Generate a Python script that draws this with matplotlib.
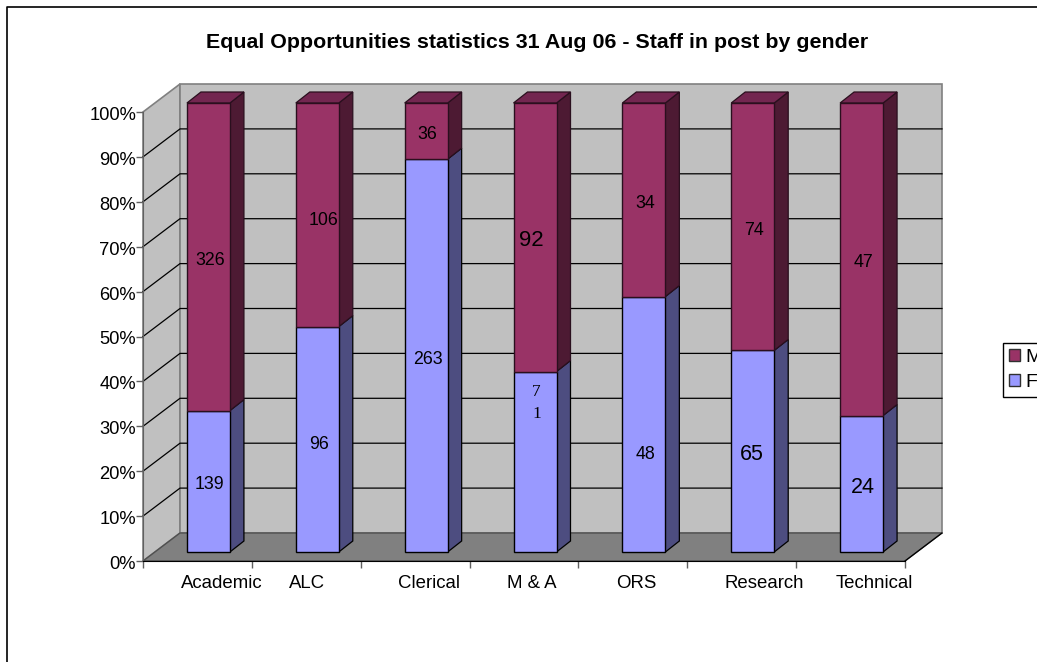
import matplotlib
matplotlib.use("Agg")
import matplotlib.pyplot as plt
from matplotlib.patches import Polygon, Patch
from matplotlib.lines import Line2D
from matplotlib.transforms import ScaledTranslation

categories = ["Academic", "ALC", "Clerical", "M & A", "ORS", "Research", "Technical"]
female_share = [31.5, 50.2, 87.5, 40.2, 56.9, 44.9, 30.4]
female_counts = ["139", "96", "263", "7\n1", "48", "65", "24"]
male_counts = ["326", "106", "36", "92", "34", "74", "47"]
percent_ticks = list(range(0, 101, 10))
title = "Equal Opportunities statistics 31 Aug 06 - Staff in post by gender"

W, H = 1037, 662
L, R, T, B = 143, 905, 112, 561
fig = plt.figure(figsize=(W / 100, H / 100), dpi=100, facecolor="white")
ax = fig.add_axes([L / W, 1 - B / H, (R - L) / W, (B - T) / H])
ax.set_xlim(0, 7)
ax.set_ylim(0, 100)
ax.patch.set_visible(False)
PX = 7 / (R - L)
PY = 100 / (B - T)

# 3-D depth offsets, expressed in data units
wall_dx, wall_dy = 37 * PX, 28 * PY
shift_dx, shift_dy = 11 * PX, 9 * PY
bar_dx, bar_dy = 14 * PX, 11 * PY
bar_w = 43 * PX

WALL, FLOOR, EDGE = "#c0c0c0", "#808080", "#808080"
MALE, MALE_TOP, MALE_SIDE = "#993366", "#732650", "#4d1a33"
FEM, FEM_TOP, FEM_SIDE = "#9999ff", "#7373bf", "#4d4d80"


def poly(pts, fc, ec, lw=1.0, z=1):
    ax.add_patch(Polygon(pts, closed=True, facecolor=fc, edgecolor=ec, linewidth=lw,
                         zorder=z, clip_on=False, joinstyle="miter"))


poly([(0, 0), (wall_dx, wall_dy), (wall_dx, 100 + wall_dy), (0, 100)], WALL, EDGE, 1.2)
poly([(wall_dx, wall_dy), (7 + wall_dx, wall_dy), (7 + wall_dx, 100 + wall_dy),
      (wall_dx, 100 + wall_dy)], WALL, EDGE, 1.2)
for p in percent_ticks[1:-1]:
    ax.plot([0, wall_dx, 7 + wall_dx], [p, p + wall_dy, p + wall_dy], color="black",
            lw=0.9, zorder=1.5, clip_on=False)
poly([(0, 0), (7, 0), (7 + wall_dx, wall_dy), (wall_dx, wall_dy)], FLOOR, "#505050", 1.0, 2)
ax.plot([7, 7 + wall_dx], [0, wall_dy], color="black", lw=0.9, zorder=2.1, clip_on=False)

# hand adjustments of individual labels, in pixels (right, up), and their sizes
SANS, SERIF = "Liberation Sans", "Liberation Serif"
base_dy = -3.5
f_nudge = {"ALC": (0, -2), "M & A": (0, 62.5), "ORS": (0, -26.5), "Research": (-2, 0)}
m_nudge = {"ALC": (5, -2), "M & A": (-5, 0)}
f_size = {"Research": 15.5, "Technical": 15.5, "M & A": 12.5}
m_size = {"M & A": 16}

for i, f in enumerate(female_share):
    name = categories[i]
    x0 = i + 0.5 - bar_w / 2 + shift_dx
    y0 = shift_dy
    m = 100 - f
    ax.bar(x0, f, width=bar_w, bottom=y0, align="edge", color=FEM, edgecolor="black",
           linewidth=1.0, zorder=4, clip_on=False)
    ax.bar(x0, m, width=bar_w, bottom=y0 + f, align="edge", color=MALE, edgecolor="#2a0f1e",
           linewidth=1.0, zorder=4, clip_on=False)
    xr = x0 + bar_w
    poly([(xr, y0), (xr + bar_dx, y0 + bar_dy), (xr + bar_dx, y0 + f + bar_dy), (xr, y0 + f)],
         FEM_SIDE, "black", 0.9, 3.5)
    poly([(xr, y0 + f), (xr + bar_dx, y0 + f + bar_dy), (xr + bar_dx, y0 + 100 + bar_dy),
          (xr, y0 + 100)], MALE_SIDE, "#2a0f1e", 0.9, 3.5)
    poly([(x0, y0 + 100), (xr, y0 + 100), (xr + bar_dx, y0 + 100 + bar_dy),
          (x0 + bar_dx, y0 + 100 + bar_dy)], MALE_TOP, "#2a0f1e", 0.9, 3.5)

    cx = x0 + bar_w / 2 + 1.5 * PX
    fx, fy = f_nudge.get(name, (0, 0))
    mx, my = m_nudge.get(name, (0, 0))
    ax.text(cx + fx * PX, y0 + f / 2 + (fy + base_dy) * PY, female_counts[i], ha="center",
            va="center", fontsize=f_size.get(name, 12.8),
            family=SERIF if name == "M & A" else SANS, color="black", zorder=6, linespacing=1.5)
    ax.text(cx + mx * PX, y0 + f + m / 2 + (my + base_dy) * PY, male_counts[i], ha="center",
            va="center", fontsize=m_size.get(name, 12.8), family=SANS, color="black", zorder=6)

ax.set_xticks(range(8))
ax.set_xticklabels([])
ax.set_yticks(percent_ticks)
ax.set_yticklabels([f"{p}%" for p in percent_ticks], fontsize=13.2, family=SANS)
ax.tick_params(axis="both", length=5, width=1.0, color="#606060", pad=0, labelcolor="black")
down = ScaledTranslation(0, -1.5 / 100, fig.dpi_scale_trans)
for lab in ax.get_yticklabels():
    lab.set_transform(lab.get_transform() + down)
for s in ("top", "right"):
    ax.spines[s].set_visible(False)
ax.spines["left"].set_color("#606060")
ax.spines["left"].set_zorder(2.5)
ax.spines["bottom"].set_color("black")
ax.spines["bottom"].set_zorder(2.5)

label_nudge_px = [24, 1, 14, 8, 3, 23, 24]
for i, c in enumerate(categories):
    ax.annotate(c, (i + 0.5, 0), xycoords="data", xytext=(label_nudge_px[i] * 0.72, -23 * 0.72),
                textcoords="offset points", ha="center", va="center", fontsize=13.4,
                family=SANS, annotation_clip=False)

fig.text(537.5 / W, 1 - 42.5 / H, title, ha="center", va="center", fontsize=15.4,
         fontweight="bold", family=SANS)

leg = fig.legend(handles=[Patch(facecolor=MALE, edgecolor="#303030"),
                          Patch(facecolor=FEM, edgecolor="#303030")],
                 labels=["M", "F"], loc="upper left", bbox_to_anchor=(1003 / W, 1 - 343 / H),
                 bbox_transform=fig.transFigure, borderaxespad=0,
                 prop={"family": SANS, "size": 14},
                 handlelength=0.55, handleheight=0.55, handletextpad=0.3, labelspacing=0.42,
                 borderpad=0.3, fancybox=False, framealpha=1, edgecolor="black")
leg.get_frame().set_linewidth(1.0)

fig.add_artist(Line2D([7 / W, 7 / W, 1], [0, 1 - 7 / H, 1 - 7 / H], color="black", lw=1.2,
                      transform=fig.transFigure))

fig.savefig("out.png", dpi=100)
